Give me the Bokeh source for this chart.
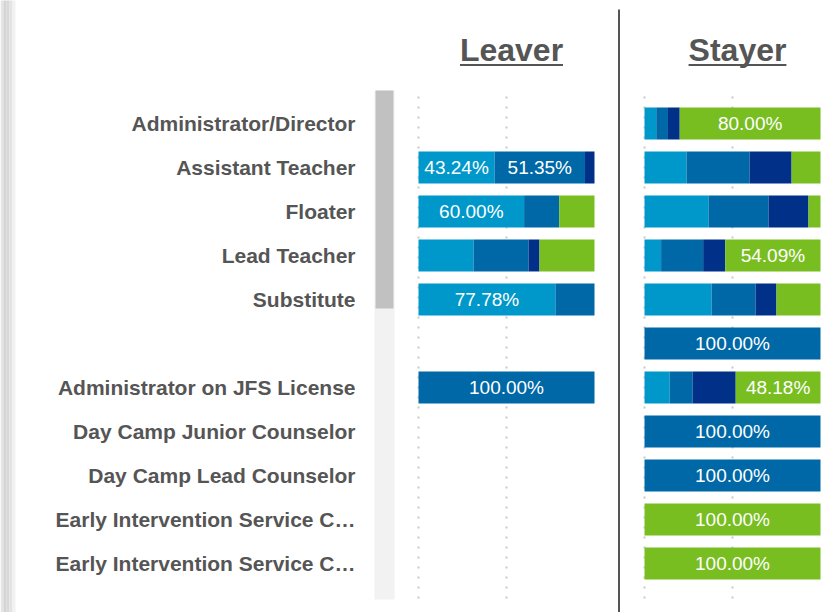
from bokeh.plotting import figure
from bokeh.layouts import row
from bokeh.models import Range1d, ColumnDataSource
from bokeh.core.properties import value
from bokeh.embed import file_html
from bokeh.resources import INLINE

# ---------------- data ----------------
roles = ["Administrator/Director", "Assistant Teacher", "Floater", "Lead Teacher",
         "Substitute", "", "Administrator on JFS License", "Day Camp Junior Counselor",
         "Day Camp Lead Counselor", "Early Intervention Service C\u2026",
         "Early Intervention Service C\u2026"]

panels = ["Leaver", "Stayer"]

leaver_light = [0, 43.24, 60.00, 31.25, 77.78, 0, 0, 0, 0, 0, 0]
leaver_mid = [0, 51.35, 20.00, 31.25, 22.22, 0, 100.00, 0, 0, 0, 0]
leaver_dark = [0, 5.41, 0, 6.25, 0, 0, 0, 0, 0, 0, 0]
leaver_green = [0, 0, 20.00, 31.25, 0, 0, 0, 0, 0, 0, 0]

stayer_light = [6.67, 23.88, 36.36, 9.43, 38.10, 0, 14.29, 0, 0, 0, 0]
stayer_mid = [6.67, 35.82, 34.09, 23.90, 25.00, 100.00, 13.10, 100.00, 100.00, 0, 0]
stayer_dark = [6.67, 23.88, 22.73, 12.58, 11.90, 0, 24.43, 0, 0, 0, 0]
stayer_green = [80.00, 16.42, 6.82, 54.09, 25.00, 0, 48.18, 0, 0, 100.00, 100.00]

seg_colors = ["#0098CA", "#0068A6", "#003087", "#78BE21"]
label_min = 40.0  # segments narrower than this carry no label

TEXT_GRAY = "#555555"
FONT = value("Liberation Sans")

# vertical layout: row index units, 44px per row, row 0 centred at y=123px
Y_RANGE = (11.114, -2.795)
H = 612


def make_panel(name, series, width, x_start, x_end, divider=False):
    p = figure(width=width, height=H, output_backend="svg", toolbar_location=None,
               x_range=Range1d(x_start, x_end), y_range=Range1d(*Y_RANGE),
               min_border=0, min_border_left=0, min_border_right=0,
               min_border_top=0, min_border_bottom=0)
    p.axis.visible = False
    p.grid.visible = False
    p.outline_line_color = None
    p.background_fill_color = "white"
    p.border_fill_color = "white"

    # dotted reference lines at 0% and 50%
    gx = [0.0, 0.5]
    p.segment(x0=gx, x1=gx, y0=[-0.614] * 2, y1=[10.818] * 2,
              line_color="#c8c8c8", line_width=2, line_dash="2 8")

    ys = list(range(len(roles)))
    lefts = [0.0] * len(roles)
    lx, ly, lt = [], [], []
    for vals, col in zip(series, seg_colors):
        rights = [l + v / 100.0 for l, v in zip(lefts, vals)]
        src = ColumnDataSource(dict(y=ys, left=lefts, right=rights))
        p.hbar(y="y", left="left", right="right", height=0.727, source=src,
               fill_color=col, line_color=None)
        for i, v in enumerate(vals):
            if v >= label_min:
                lx.append((lefts[i] + rights[i]) / 2)
                ly.append(i)
                lt.append(f"{v:.2f}%")
        lefts = rights

    p.text(x=lx, y=ly, text=lt, text_font=FONT, text_font_size="19px",
           text_color="white", text_align="center", text_baseline="middle")

    # header with underline
    cx = 0.5 + 5 / 176
    p.text(x=[cx], y=[-1.659], text=[name], text_font=FONT, text_font_size="32px",
           text_font_style="bold", text_color=TEXT_GRAY, text_align="center",
           text_baseline="middle")
    half = {"Leaver": 0.2926, "Stayer": 0.278}[name]
    p.segment(x0=[cx - half], x1=[cx + half], y0=[-1.33], y1=[-1.33],
              line_color=TEXT_GRAY, line_width=2)

    if divider:
        dx = (618.5 - 644) / 176
        p.segment(x0=[dx], x1=[dx], y0=[-2.59], y1=[11.5],
                  line_color=TEXT_GRAY, line_width=2)
    return p


# ---------------- label column ----------------
lab = figure(width=410, height=H, output_backend="svg", toolbar_location=None,
             x_range=Range1d(0, 410), y_range=Range1d(*Y_RANGE),
             min_border=0, min_border_left=0, min_border_right=0,
             min_border_top=0, min_border_bottom=0)
lab.axis.visible = False
lab.grid.visible = False
lab.outline_line_color = None

# soft shadow strip at the far left
lab.quad(left=[0, 3, 6, 9, 12], right=[3, 6, 9, 12, 15], top=[-3] * 5, bottom=[12] * 5,
         fill_color=["#e4e4e4", "#d4d4d4", "#d8d8d8", "#e3e3e3", "#f2f2f2"],
         line_color=None)

# scrollbar track and thumb
lab.quad(left=[374], right=[394], top=[-0.75], bottom=[10.818],
         fill_color="#f2f2f2", line_color=None)
lab.quad(left=[375], right=[393], top=[-0.75], bottom=[4.205],
         fill_color="#c1c1c1", line_color=None)

lab.text(x=[355] * len(roles), y=list(range(len(roles))), text=roles,
         text_font=FONT, text_font_size="21px", text_font_style="bold",
         text_color=TEXT_GRAY, text_align="right", text_baseline="middle")

leaver = make_panel("Leaver", [leaver_light, leaver_mid, leaver_dark, leaver_green],
                    206, (410 - 418) / 176, (616 - 418) / 176)
stayer = make_panel("Stayer", [stayer_light, stayer_mid, stayer_dark, stayer_green],
                    217, (616 - 644) / 176, (833 - 644) / 176, divider=True)

layout = row(lab, leaver, stayer, spacing=0)

open("out.html", "w").write(file_html(layout, INLINE))
